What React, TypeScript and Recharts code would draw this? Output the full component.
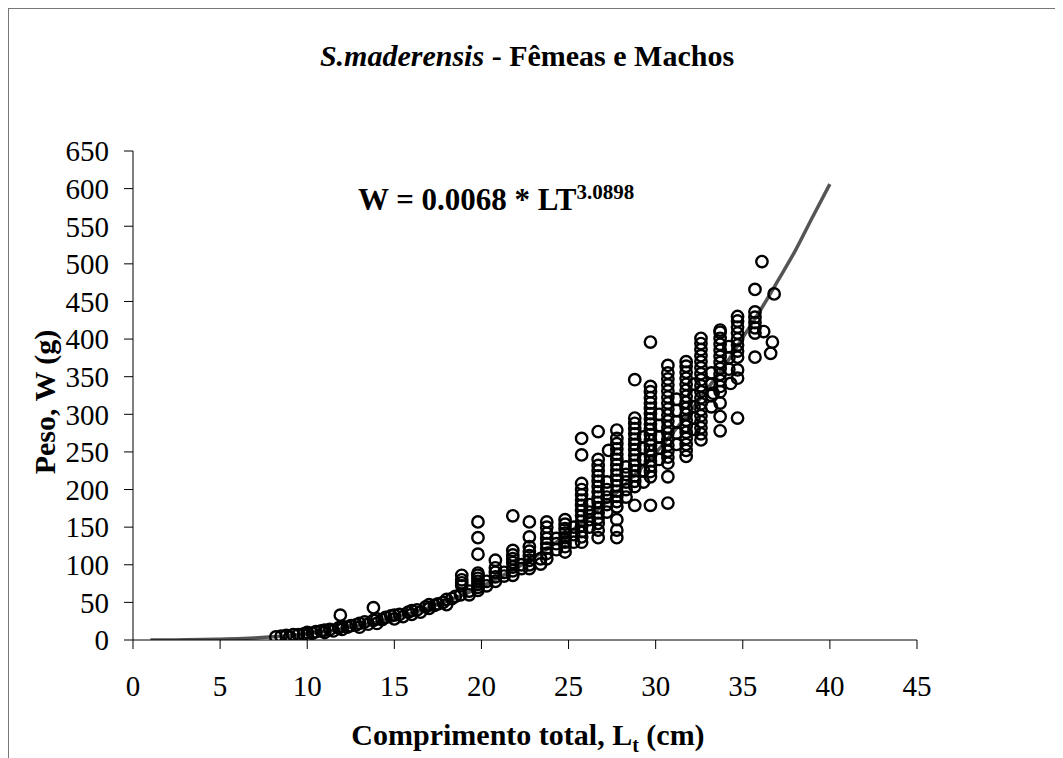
import React from 'react'
import { ComposedChart, Scatter, Line, XAxis, YAxis } from 'recharts'

// pesos (g) lidos no gráfico por comprimento total (cm)
const smallFish: [number, number][] = [
  [8.2, 4], [8.5, 5], [8.8, 6], [9, 4], [9.2, 7], [9.5, 7], [9.8, 8], [10, 6], [10, 10],
  [10.3, 9], [10.5, 11], [10.8, 12], [11, 10], [11, 13], [11.3, 14], [11.5, 12], [11.8, 16],
  [12, 14], [12, 18], [12.3, 17], [12.5, 19], [12.8, 20], [13, 17], [13, 22], [13.3, 24],
  [13.5, 21], [13.8, 26], [14, 22], [14, 28], [14.3, 27], [14.5, 30], [14.8, 32], [15, 28],
  [15, 33], [15.3, 34], [15.5, 31], [15.8, 37], [16, 34], [16, 39], [16.3, 40], [16.5, 37],
  [16.8, 44], [17, 42], [17, 47], [17.3, 46], [17.5, 48], [17.8, 50], [18, 47], [18, 54],
  [18.3, 55], [18.5, 58], [18.8, 60],
]

const midColumns: [number, number[]][] = [
  [18.87, [72, 76, 80, 86]],
  [19.3, [60, 65]],
  [19.8, [66, 70, 74, 78, 82, 86, 89]],
  [20.3, [72, 78]],
  [20.8, [78, 84, 90, 96, 106]],
  [21.3, [85, 90]],
  [21.8, [86, 92, 97, 103, 108, 113, 119]],
  [22.3, [95, 100]],
  [22.75, [95, 100, 106, 112, 118, 124, 137]],
  [23.4, [101, 108]],
  [23.75, [108, 115, 122, 128, 135, 142, 150, 157]],
  [24.3, [120, 128, 135]],
  [24.8, [117, 124, 130, 136, 142, 148, 154, 160]],
  [25.3, [130, 140, 150]],
]

const largeColumns: [number, number[]][] = [
  [25.75, [130, 137, 144, 151, 158, 165, 172, 179, 186, 193, 200, 208]],
  [26.2, [150, 160, 170, 180]],
  [26.7, [136, 146, 155, 162, 169, 176, 183, 190, 197, 204, 211, 218, 225, 232, 240]],
  [27.2, [170, 180, 190, 200, 210]],
  [27.77, [136, 146, 160, 177, 184, 191, 198, 205, 212, 219, 226, 233, 240, 247, 254, 261, 268]],
  [28.3, [190, 200, 210, 220, 230]],
  [28.8, [204, 211, 218, 225, 232, 239, 246, 253, 260, 267, 274, 281, 288, 295]],
  [29.3, [210, 225, 240, 255, 270]],
  [29.7, [217, 224, 231, 238, 245, 252, 259, 266, 273, 280, 287, 294, 301, 308, 315, 322, 330, 337]],
  [30.2, [240, 255, 270, 285, 300]],
  [30.7, [217, 235, 243, 251, 259, 267, 275, 283, 291, 299, 307, 315, 323, 331, 339, 347, 355, 365]],
  [31.2, [260, 275, 290, 305, 320]],
  [31.75, [244, 252, 260, 268, 276, 284, 292, 300, 308, 316, 324, 332, 340, 348, 356, 364, 370]],
  [32.2, [280, 295, 310, 325, 340]],
  [32.6, [266, 274, 282, 290, 298, 306, 314, 322, 330, 338, 346, 354, 362, 370, 378, 386, 394, 401]],
  [33.2, [310, 325, 340, 355]],
  [33.7, [297, 315, 330, 337, 345, 353, 361, 369, 377, 385, 393, 401, 409, 412]],
  [34.2, [360, 375, 390]],
  [34.7, [348, 359, 376, 384, 392, 400, 408, 416, 424, 430]],
  [35.7, [408, 415, 422, 429, 436]],
]

const outliers: [number, number][] = [
  [11.9, 33], [13.8, 43], [19.8, 114], [19.8, 136], [19.8, 157], [21.8, 165], [22.75, 157],
  [25.75, 246], [25.75, 268], [26.7, 277], [27.3, 252], [27.77, 279], [28.8, 179], [28.8, 346],
  [29.7, 179], [29.7, 396], [30.7, 182], [33.3, 328], [33.7, 278], [34.3, 341], [34.7, 295],
  [35.7, 376], [35.7, 466], [36.1, 503], [36.2, 410], [36.6, 381], [36.7, 396], [36.8, 460],
]

// curva ajustada W = 0.0068 * LT^3.0898
const fitLength = [
  1, 2, 3, 4, 5, 6, 7, 8, 9, 10, 11, 12, 13, 14, 15, 16, 17, 18, 19, 20,
  21, 22, 23, 24, 25, 26, 27, 28, 29, 30, 31, 32, 33, 34, 35, 36, 37, 38, 39, 40,
]
const fitWeight = [
  0, 0.1, 0.2, 0.5, 1.0, 1.7, 2.8, 4.2, 6.0, 8.4, 11.2, 14.7, 18.8, 23.7, 29.3, 35.8, 43.1, 51.5, 60.8, 71,
  82.9, 95.7, 109.7, 125, 142, 160, 180, 201, 224.6, 249, 276, 304, 335, 366, 402, 438, 477, 517, 562, 606,
]

const xTicks = [0, 5, 10, 15, 20, 25, 30, 35, 40, 45]
const yTicks = [0, 50, 100, 150, 200, 250, 300, 350, 400, 450, 500, 550, 600, 650]

const points = [
  ...smallFish,
  ...midColumns.flatMap(([x, ys]) => ys.map((y) => [x, y] as [number, number])),
  ...largeColumns.flatMap(([x, ys]) => ys.map((y) => [x, y] as [number, number])),
  ...outliers,
].map(([x, y]) => ({ x, y }))

const fitData = fitLength.map((x, i) => ({ x, y: fitWeight[i] }))

const serif = "'Liberation Serif', 'DejaVu Serif', serif"

const Ring = (props: any) => (
  <circle cx={props.cx} cy={props.cy} r={5.7} fill="none" stroke="#000" strokeWidth={2.4} />
)

const App: React.FC = () => {
  return (
    <div
      style={{
        position: 'relative',
        width: 1054,
        height: 749,
        borderTop: '1px solid #777',
        borderLeft: '1px solid #777',
        fontFamily: serif,
        background: '#fff',
      }}
    >
      <div
        style={{
          position: 'absolute',
          left: 0,
          width: 1036,
          top: 30,
          textAlign: 'center',
          fontSize: 30,
          fontWeight: 'bold',
          lineHeight: '34px',
        }}
      >
        <i>S.maderensis</i> - Fêmeas e Machos
      </div>

      <div
        style={{
          position: 'absolute',
          left: 349,
          top: 166,
          fontSize: 31,
          fontWeight: 'bold',
          lineHeight: '34px',
          whiteSpace: 'nowrap',
        }}
      >
        W = 0.0068 * LT<sup style={{ fontSize: 21 }}>3.0898</sup>
      </div>

      <div
        style={{
          position: 'absolute',
          left: 36,
          top: 393,
          transform: 'translate(-50%, -50%) rotate(-90deg)',
          fontSize: 30,
          fontWeight: 'bold',
          lineHeight: '34px',
          whiteSpace: 'nowrap',
        }}
      >
        Peso, W (g)
      </div>

      <div
        style={{
          position: 'absolute',
          left: 0,
          width: 1038,
          top: 709,
          textAlign: 'center',
          fontSize: 30,
          fontWeight: 'bold',
          lineHeight: '34px',
        }}
      >
        Comprimento total, L<sub style={{ fontSize: 20 }}>t</sub> (cm)
      </div>

      <div style={{ position: 'absolute', left: 0, top: 0 }}>
        <ComposedChart
          width={1054}
          height={749}
          margin={{ top: 142, right: 146, bottom: 58, left: 44 }}
          style={{ fontFamily: serif }}
        >
          <XAxis
            type="number"
            dataKey="x"
            domain={[0, 45]}
            ticks={xTicks}
            interval={0}
            height={60}
            tickSize={9}
            tickMargin={26}
            stroke="#000"
            tick={{ fill: '#000', fontSize: 29, fontFamily: serif }}
            allowDataOverflow
          />
          <YAxis
            type="number"
            dataKey="y"
            domain={[0, 650]}
            ticks={yTicks}
            interval={0}
            width={80}
            tickSize={9}
            tickMargin={15}
            stroke="#000"
            tick={{ fill: '#000', fontSize: 29, fontFamily: serif }}
            allowDataOverflow
          />
          <Scatter data={points} shape={Ring} isAnimationActive={false} />
          <Line
            data={fitData}
            dataKey="y"
            type="monotone"
            stroke="#555"
            strokeWidth={3.5}
            dot={false}
            isAnimationActive={false}
          />
        </ComposedChart>
      </div>
    </div>
  )
}

export default App
